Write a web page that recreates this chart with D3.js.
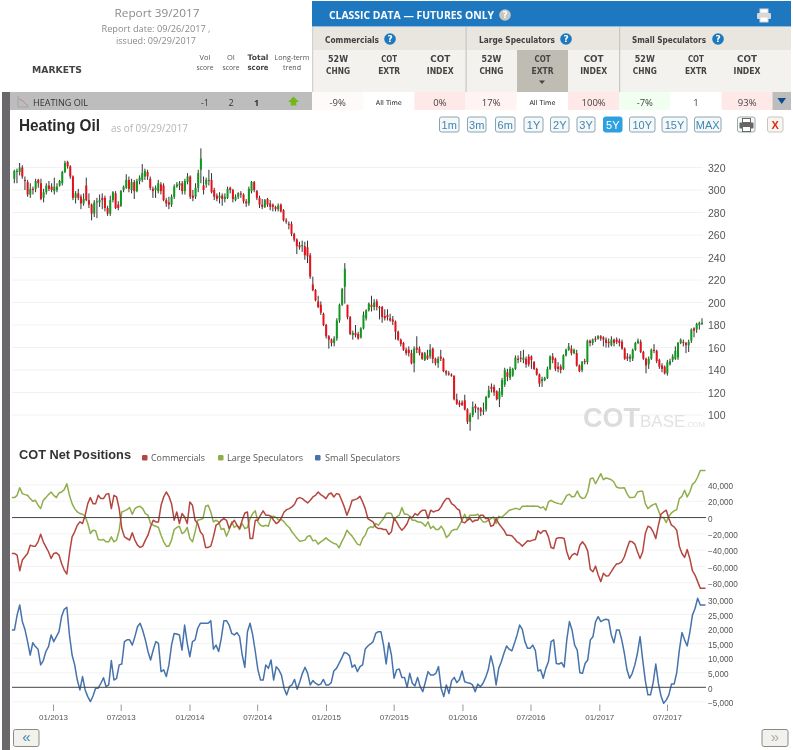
<!DOCTYPE html>
<html><head><meta charset="utf-8">
<script src="https://cdnjs.cloudflare.com/ajax/libs/d3/7.8.5/d3.min.js"></script>
<style>
html,body{margin:0;padding:0;background:#fff;overflow:hidden}
svg{display:block;filter:blur(.3px)}
</style></head><body>
<svg id="c" width="793" height="750"></svg>
<script>
// ---- price candles (weekly, USc/gal)
const opens=[310,316,316,320,309,307,296,301,301,309,
306,293,298,304,303,299,300,304,306,316,
325,321,312,293,297,294,288,304,291,287,
279,289,289,293,293,284,279,291,297,287,
286,300,302,309,300,307,299,308,309,312,
316,310,301,300,299,305,304,291,289,287,
294,303,304,306,299,307,312,295,294,302,
318,304,305,308,309,300,295,293,295,292,
293,302,300,291,294,297,296,290,288,299,
307,299,293,287,285,292,288,287,285,283,
287,282,273,270,270,261,256,251,250,250,
249,242,216,211,201,198,190,180,170,167,
164,168,184,198,214,198,187,171,173,172,
169,177,186,193,198,196,201,196,196,188,
189,186,185,183,174,167,164,158,158,155,
146,160,159,155,149,153,152,159,150,146,
152,150,139,137,136,135,114,111,111,113,
105,94,100,108,106,106,103,105,116,125,
125,121,114,118,127,138,133,135,141,150,
151,149,150,152,152,147,141,136,130,131,
133,141,152,150,143,143,141,153,158,159,
155,155,144,140,148,147,166,164,168,168,
170,169,167,165,162,167,167,166,165,159,
152,150,150,158,164,165,156,150,145,150,
158,157,149,144,143,137,145,149,150,151,
164,165,164,162,166,177,176,180,181];
const closes=[317,317,320,312,308,296,301,300,308,306,
292,298,304,301,300,303,303,308,316,324,
321,312,293,297,293,288,292,291,287,279,
289,290,291,291,284,279,291,298,284,284,
299,303,309,301,307,299,308,311,315,317,
312,302,299,302,306,299,291,288,287,294,
303,305,306,299,308,312,294,293,302,315,
328,300,309,309,298,294,292,295,292,294,
301,300,292,294,297,296,290,288,301,307,
300,293,287,285,291,287,285,285,283,286,
281,273,272,269,261,256,250,249,251,242,
241,223,211,202,196,191,180,170,167,164,
168,184,198,212,230,187,172,173,171,168,
177,189,193,199,196,200,196,195,187,186,
187,184,183,174,167,163,158,155,155,146,
159,158,155,150,155,150,158,150,146,150,
150,139,137,136,135,114,110,109,109,105,
94,100,107,106,105,103,104,116,122,123,
120,114,121,131,140,134,141,141,151,149,
150,151,145,145,149,141,136,128,132,133,
141,152,149,141,141,140,153,158,161,155,
158,144,139,147,147,166,164,167,167,170,
168,167,164,164,167,164,165,164,159,150,
150,152,158,164,166,156,150,144,150,158,
157,148,143,141,137,147,148,152,157,164,
167,164,162,165,176,175,181,182,182];
const highs=[318,319,324,322,312,309,306,303,310,310,
310,301,306,308,306,311,306,309,317,326,
326,322,313,299,301,296,297,311,297,288,
291,293,296,297,295,286,295,299,299,290,
300,304,314,312,310,309,310,313,323,319,
318,312,303,304,309,307,306,293,294,296,
305,307,308,308,310,315,313,300,306,318,
337,312,311,318,315,302,297,298,297,297,
303,303,301,296,298,299,297,292,303,308,
308,300,295,292,292,293,291,288,286,288,
288,283,275,272,272,262,257,254,255,254,
255,244,223,212,206,201,191,181,171,168,
170,186,199,213,235,198,188,175,180,174,
178,192,194,200,206,203,203,197,197,194,
194,190,188,184,175,168,165,160,161,158,
161,170,161,156,156,158,163,160,151,152,
158,151,140,139,137,135,119,113,113,118,
106,102,112,110,107,107,111,117,126,128,
127,122,124,133,142,141,143,142,153,153,
157,158,152,154,153,148,142,137,134,134,
143,153,155,151,147,145,154,159,164,162,
159,158,145,148,150,167,167,168,170,171,
171,170,169,168,170,168,169,168,167,160,
155,154,159,165,168,167,157,151,152,159,
163,158,150,146,144,149,150,154,161,165,
168,167,165,167,177,178,182,183,186];
const lows=[306,306,313,310,300,294,293,296,298,302,
291,289,296,299,298,296,298,303,304,315,
319,310,291,288,291,283,286,290,284,273,
276,275,285,283,281,277,277,289,283,282,
285,298,301,298,297,292,298,305,307,309,
309,300,293,293,297,296,290,285,283,285,
292,302,300,296,296,305,292,290,292,298,
306,296,302,304,297,291,290,288,286,289,
292,297,289,290,292,293,288,285,286,297,
298,291,284,283,284,285,282,281,281,281,
280,272,270,265,259,254,243,247,245,238,
235,221,210,201,195,189,179,168,159,161,
161,166,182,197,199,185,171,167,169,167,
168,176,184,192,192,193,193,185,182,184,
184,183,180,167,166,161,157,153,152,145,
138,155,153,149,148,149,150,146,144,142,
148,138,135,135,134,113,109,107,108,104,
92,86,98,102,96,99,100,103,115,120,
117,113,107,116,125,130,131,134,140,146,
147,146,142,143,141,140,135,125,125,130,
132,140,146,139,138,137,140,152,157,153,
154,143,138,138,145,145,161,162,165,167,
166,161,160,160,161,161,163,161,158,149,
148,147,148,157,163,155,149,137,141,149,
155,146,141,138,136,135,144,147,149,149,
163,161,155,156,164,169,173,176,180];
// ---- COT net positions, thousands of contracts, weekly readings
const commercialsK=[-44.1,-44.1,-46.1,-65.3,-52.2,-48.1,-44.1,-33.9,-35.1,-35.1,
-29.8,-20.4,-29.8,-35.9,-42,-50.2,-44.1,-43.2,-46.1,-56.3,
-64.5,-69.4,-44.1,-23.7,-17.5,-9.4,-5.3,-7.3,2.9,17.1,
24.5,17.1,17.1,27.3,23.3,23.3,28.6,29.4,11,27.3,
25.3,11,-13.5,-23.7,-25.7,-27.7,-18.8,-27.7,-33.9,-36.7,
-35.1,-27.7,-21.6,-11.4,-3.3,-5.3,-5.3,15.1,25.3,31.4,
26.1,17.1,-3.3,6.9,-7.3,4.9,0.8,-7.3,19.2,15.1,
-3.3,-7.3,-17.5,-21.6,-36.7,-36.7,-35.1,-23.7,-9.4,-7.3,
-3.3,-1.2,-3.3,-13.5,-7.3,-3.3,-9.4,-13.5,-3.3,5.7,
6.9,-25.7,-25.7,-3.3,-3.3,2.9,8.2,2.9,2.9,
1.6,-3.3,-7.3,-5.3,0,6.9,9.8,11,13.1,16.3,
23.3,24.5,23.3,20.4,18,21.2,25.3,27.3,31.4,28.2,
26.1,23.3,28.6,30.2,25.3,29.4,28.6,21.2,13.1,2.9,
11,21.2,22,23.3,26.1,19.2,11,-1.2,-3.3,-5.3,
-11.4,-13.5,-13.5,-14.7,-14.7,-20.8,-17.5,-1.2,-5.3,-11.4,
-15.5,-12.2,-7.3,0.8,0,4.9,2.9,6.9,9,9,
-1.2,9,6.9,8.2,9,13.1,19.2,23.3,23.3,17.1,
15.1,11,9,-5.3,-6.5,-3.3,-1.2,-5.3,-3.3,-3.3,
2.9,2.9,-1.2,-1.2,-10.6,-9.4,-1.2,-7.3,-11.4,-15.5,
-21.6,-21.6,-22.4,-25.7,-29.8,-31.8,-35.1,-31.8,-28.6,-29,
-27.7,-26.9,-16.3,-19.6,-16.3,-16.3,-23.7,-36.7,-37.9,-25.7,
-24.9,-24.9,-25.7,-42,-51.4,-46.1,-44.1,-46.1,-33.9,-29.8,
-33.9,-41.2,-63.6,-66.5,-59.6,-70.6,-78.7,-68.5,-71.8,-71.4,
-66.5,-61.2,-57.1,-56.3,-54.3,-48.1,-37.9,-29,-29.8,-32.6,
-42,-50.2,-42,-19.6,-10.6,-12.2,-17.5,-25.7,-9.4,4.1,
6.9,9,-1.2,-9.4,-11.4,-15.5,-35.1,-44.1,-49,-39.2,
-50.2,-65.3,-70.6,-78.7,-86.9,-86.9,-86.9];
const largeSpecsK=[24.5,24.5,27.3,36.7,29.4,28.2,27.3,23.3,20,21.2,
15.1,11,21.2,24.5,28.2,31.4,27.3,24.5,30.2,31.4,
34.3,41.6,27.3,17.1,11,6.9,4.9,4.1,1.6,-7.3,
-19.6,-15.5,-16.3,-26.9,-27.7,-26.9,-29.8,-29.8,-23.7,-29.8,
-27.7,-15.5,6.9,8.2,9.8,12.2,4.1,11,13.1,13.9,
11,4.9,2.9,-7.3,-9.4,-10.6,-12.2,-21.6,-29.8,-35.1,
-35.1,-27.7,-14.7,-12.2,-10.6,-19.6,-17.5,-12.2,-25.7,-29.8,
-17.5,-3.3,-2.4,-1.2,13.9,15.1,6.9,-5.3,-3.3,-5.3,
-14.7,-13.5,-22.8,-15.5,-5.3,-12.2,-9.4,-14.7,-7.3,-13.5,
-12.2,-1.2,4.9,8.2,-5.3,-9.4,-10.6,-9.4,-10.6,
0.8,1.6,0,-3.3,-2.4,-5.3,-9.4,-12.2,-17.5,-21.6,
-25.7,-29,-28.6,-27.7,-22.8,-22.4,-28.6,-27.7,-32.6,-29.8,
-27.7,-24.9,-27.7,-29.8,-31.8,-32.6,-37.1,-29.8,-23.7,-15.5,
-19.6,-22.8,-27.7,-32.6,-33.9,-25.7,-21.6,-13.5,-11.4,-12.2,
-7.3,-9.4,-5.3,-1.2,4.9,5.7,4.9,-3.3,0.8,2.9,
12.2,4.1,4.1,1.6,-3.3,-3.3,-5.3,-5.3,-7.3,-10.6,
-5.3,-13.5,-10.6,-14.7,-14.7,-10.6,-15.5,-24.5,-21.6,-16.3,
-14.7,-14.7,-9.4,-3.3,4.1,-3.3,2.9,2.9,2.9,4.1,
-1.2,-5.3,-5.3,-3.3,-1.2,0.8,-7.3,1.6,0,2.9,
5.7,9,9.8,11,11,9.8,13.9,13.9,14.3,13.9,
14.3,13.9,13.9,11.8,13.1,9,19.2,21.2,19.2,18,
17.1,16.3,21.2,27.3,28.6,25.3,26.1,32.6,26.1,23.3,
24.5,31.4,47.7,48.6,41.6,47.7,53.9,46.5,48.6,47.7,
46.5,43.7,37.5,36.3,36.3,36.7,29.4,24.5,24.5,25.3,
31.4,32.2,32.2,17.1,11,13.9,15.9,17.1,9,0,
0,-6.1,1.6,5.7,8.2,9.8,23.3,26.1,33.5,25.3,
31.4,40.8,43.7,49.8,57.9,57.9,57.9];
const smallSpecsK=[19.7,19.7,24.8,28.3,22.6,19.9,15.7,11.1,15.3,14,
13.1,7.7,9.2,12.3,14,18,15.7,17.4,19.1,24.3,
26.8,27.5,18,11.1,7.7,2.5,-0.9,3.7,-0.9,-3.2,
-4.9,-3,-0.3,-0.3,1.4,3.3,0.2,0.8,9.2,2.5,
3.1,7.7,8,15.7,16.3,16.3,14.5,17.4,20.8,22,
19.5,16.3,12.3,9.4,12.8,15.7,15.1,5.4,6,3.7,
7.7,14.5,18.5,18.3,18,12.8,21.4,15.1,10.5,15.7,
16.3,20.3,22,22,22,22,22.9,13.1,14.5,12.3,
16.8,22.9,22.9,21.4,18.5,18,18.8,17.4,11.1,6.9,
19.1,22,18,12.3,6,
2.5,2.5,7.7,6.5,9.4,2.5,7.1,6,4.2,-0.3,
-2.6,0.2,0.8,2.7,-0.7,1.9,4.8,6.9,4.8,0.8,
2.3,1.4,0.8,1.1,2.7,0.8,0.8,1.6,5.6,6.5,
8.2,10,12,11.7,10.8,6.9,7.7,5.4,7.1,7.7,
13.2,14.2,14.9,15.7,18.5,19.1,19.1,14.5,8,15.3,
11.1,3.1,6,6.3,3.4,3.4,0,4.8,1.4,0.5,
3.4,0.2,-1.5,1.9,5.4,4.2,4.2,4.8,7.1,-0.3,
-3.2,0.8,-2.1,2.3,3.4,1.6,2.7,5.6,1.9,1.6,
1.4,0.8,-1.5,1.1,0.2,1.4,3.4,6,10.8,7.1,
0.8,6.5,8.8,11.7,14.2,13.1,12.5,15.1,18,21.4,
19.9,15.7,13.4,13.4,
14.5,12.6,5.6,6,3.1,6.5,8.8,15.7,16.3,8.2,
8,8.5,6.9,16.3,22.6,19.7,14.5,12.8,5,4.8,
8.2,9.4,16.3,17.4,22.6,24.3,22.6,23.1,23.4,23.1,
18,15.3,19.7,19.7,16.3,11.7,6,3.1,4.8,7.7,
11.7,17.4,9.4,2.3,-2.6,-2.6,1.6,8,1.4,-3,
-5.5,-4.4,-2.6,1.1,1.1,5,12.8,18.8,16.3,14.2,
18.8,24.8,27.1,30.6,28.3,28.3,28.3];
const priceTicks=[100,120,140,160,180,200,220,240,260,280,300,320];
const netTicks=[-80000,-60000,-40000,-20000,0,20000,40000];
const smallTicks=[-5000,0,5000,10000,15000,20000,25000,30000];
const dateTicks=["2013-01-01","2013-07-01","2014-01-01","2014-07-01","2015-01-01","2015-07-01","2016-01-01","2016-07-01","2017-01-01","2017-07-01"];
const rangeButtons=["1m","3m","6m","1Y","2Y","3Y","5Y","10Y","15Y","MAX"];
const colHeads=[["52W","CHNG"],["COT","EXTR"],["COT","INDEX"],["52W","CHNG"],["COT","EXTR"],["COT","INDEX"],["52W","CHNG"],["COT","EXTR"],["COT","INDEX"]];
const rowCells=["-9%","All Time","0%","17%","All Time","100%","-7%","1","93%"];
const cellFills=["#fffafa","#ffffff","#ffe8e8","#fff3f3","#ffffff","#ffe8e8","#f1fff1","#ffffff","#ffe8e8"];
const groups=["Commercials","Large Speculators","Small Speculators"];
const legendColors=["#b5463f","#8fae4b","#4673ab"];

const svg=d3.select("#c");
const SANS='"Liberation Sans",Arial,sans-serif', TAH='"DejaVu Sans",Verdana,sans-serif', OPEN='"Open Sans",sans-serif';
function T(x,y,s,o={}){
  const e=svg.append("text").attr("x",x).attr("y",y).text(s)
   .attr("font-family",o.f||SANS).attr("font-size",o.s||10).attr("fill",o.c||"#444")
   .attr("text-anchor",o.a||"start").attr("font-weight",o.w||"normal");
  if(o.len) e.attr("textLength",o.len).attr("lengthAdjust","spacingAndGlyphs");
  return e;
}
function R(x,y,w,h,fill,o={}){
  return svg.append("rect").attr("x",x).attr("y",y).attr("width",w).attr("height",h).attr("fill",fill)
   .attr("stroke",o.stroke||"none").attr("stroke-width",o.sw||1).attr("rx",o.r||0);
}
function Q(cx,cy,bg){
  svg.append("circle").attr("cx",cx).attr("cy",cy).attr("r",5.8).attr("fill",bg);
  T(cx,cy+3.3,"?",{s:9,w:"bold",c:"#fff",a:"middle",f:TAH});
}
function printer(x,y,c,bg){
  R(x+3,y,8,4,bg,{stroke:c,sw:1});
  R(x,y+4,14,6,c,{r:1});
  R(x+3,y+8,8,5,bg,{stroke:c,sw:1});
}
// left bar
R(2,92,8,658,"#6b686b");
// header left
T(157,17,"Report 39/2017",{a:"middle",s:11.5,c:"#8a8a8a",f:OPEN,len:85});
T(156,32,"Report date: 09/26/2017 ,",{a:"middle",s:9.5,c:"#8a8a8a",f:OPEN,len:109});
T(156,44,"issued: 09/29/2017",{a:"middle",s:9.5,c:"#8a8a8a",f:OPEN,len:80});
T(32,73,"MARKETS",{s:9.5,w:"bold",c:"#444",f:TAH,len:50});
T(205,60,"Vol",{a:"middle",s:7.5,c:"#555",f:OPEN});
T(205,70,"score",{a:"middle",s:7.5,c:"#555",f:OPEN,len:17});
T(231,60,"OI",{a:"middle",s:7.5,c:"#555",f:OPEN});
T(231,70,"score",{a:"middle",s:7.5,c:"#555",f:OPEN,len:17});
T(258,60,"Total",{a:"middle",s:7.5,w:"bold",c:"#444",f:TAH,len:21});
T(258,70,"score",{a:"middle",s:7.5,w:"bold",c:"#444",f:TAH,len:21});
T(292,60,"Long-term",{a:"middle",s:7,c:"#555",f:OPEN,len:35});
T(292,70,"trend",{a:"middle",s:7,c:"#555",f:OPEN,len:18});
// blue bar
R(312,1,479,25.5,"#1e78c0");
T(329,19,"CLASSIC DATA \u2014 FUTURES ONLY",{s:10.5,c:"#fff",w:"bold",f:OPEN,len:165});
Q(505,15,"#c9c7c0");
printer(757,9,"#d8d8d8","#fff");
// sub-header
R(312,27,479,23,"#e8e6df");
R(312,50,479,42,"#f3f2ee");
R(312,27,1.2,65,"#d3d1cb");
R(465.5,27,1.2,65,"#c9c7c0");
R(619,27,1.2,65,"#c9c7c0");
const colX=d3.scaleLinear().domain([0,8]).range([338,747]);
const grpX=[325,479,632],grpLen=[54,76,74],grpQ=[390,566,718];
groups.forEach((g,i)=>{T(grpX[i],42.5,g,{s:8,w:"bold",c:"#3f3f3f",f:TAH,len:grpLen[i]});Q(grpQ[i],39,"#1e78c0");});
R(517,50,51,42,"#bfbcb4");
colHeads.forEach((h,i)=>{
  T(colX(i),62,h[0],{a:"middle",s:8,w:"bold",c:"#444",f:TAH,len:i%3==2?20:(h[0]=="52W"?20:16)});
  T(colX(i),74,h[1],{a:"middle",s:8,w:"bold",c:"#444",f:TAH,len:i%3==2?27:(h[1]=="CHNG"?24:22)});
});
svg.append("path").attr("d",d3.line()([[539,80.5],[545,80.5],[542,84]])+"Z").attr("fill","#444");
// data row
R(10,92,302,18,"#bdbdbd");
svg.append("path").attr("d","M18 96V107H29").attr("fill","none").attr("stroke","#a5a5a5");
svg.append("path").attr("d","M19 99L23 101L28 106").attr("fill","none").attr("stroke","#b88");
T(33,105.5,"HEATING OIL",{s:9,c:"#333",f:OPEN,len:55});
T(205,106,"-1",{a:"middle",s:9,c:"#333",f:OPEN});
T(231,106,"2",{a:"middle",s:9,c:"#333",f:OPEN});
T(256.5,106,"1",{a:"middle",s:9,w:"bold",c:"#333",f:OPEN});
svg.append("path").attr("d","M293.5 96.5L299 102H296.3V105.5H290.7V102H288Z").attr("fill","#74b818");
rowCells.forEach((c,i)=>{
  const x0=312+i*51.2;
  R(x0,92,51.2,18,cellFills[i]);
  if(c=="All Time") T(x0+25.6,105,c,{a:"middle",s:6.5,c:"#222",f:TAH,len:26});
  else T(x0+25.6,105.5,c,{a:"middle",s:9.5,c:"#444",f:OPEN});
});
R(772.5,92,18.5,18,"#bdbdbd");
svg.append("path").attr("d","M777.5 98H786L781.7 104Z").attr("fill","#0e4a8c");
// title
T(19,131,"Heating Oil",{s:16,w:"bold",c:"#2a2a2a",f:SANS,len:81});
T(111,132,"as of 09/29/2017",{s:10,c:"#b5b5b5",f:OPEN,len:77});
// buttons
const btnEdges=[[439.5,459],[467.5,486],[495.5,515],[524,543],[550.5,569],[577,595],[603.5,622],[629.5,655],[662,687],[694.5,721]];
rangeButtons.forEach((b,i)=>{
  const [a,z]=btnEdges[i],act=b=="5Y";
  R(a,117,z-a,15,act?"#2ea0e2":"#f6f8f8",{stroke:act?"#2ea0e2":"#86a6b6",r:2});
  T((a+z)/2,128.5,b,{a:"middle",s:11,c:act?"#fff":"#3d86b6",f:SANS});
});
R(737.5,117,17.5,15,"#f6f8f8",{stroke:"#9aa",r:2});
printer(739.5,118.5,"#666","#fff");
R(767.5,117,15.5,15,"#f6f6f4",{stroke:"#c9c5bb",r:2});
T(775.2,128.5,"X",{a:"middle",s:11,c:"#e8260c",f:SANS,w:"bold"});

// ---- price chart
const y=d3.scaleLinear().domain([100,320]).range([415,167.5]);
const xi=d3.scaleLinear().domain([0,opens.length-1]).range([14.3,702]);
svg.append("g").selectAll("line").data(priceTicks).join("line")
  .attr("x1",12).attr("x2",703).attr("y1",d=>y(d)).attr("y2",d=>y(d)).attr("stroke","#f2f2f2");
// watermark: one text element with three runs
const wm=svg.append("text").attr("x",583).attr("y",427).attr("font-family",SANS);
wm.append("tspan").attr("font-size",27).attr("font-weight","bold").attr("fill","#dcdcdc").text("COT");
wm.append("tspan").attr("font-size",17).attr("fill","#e2e2e2").text("BASE");
wm.append("tspan").attr("font-size",7.5).attr("fill","#e2e2e2").text(".COM");
const ax=svg.append("g").attr("transform","translate(706,0)").call(d3.axisRight(y).tickValues(priceTicks).tickSize(0).tickPadding(2));
ax.select(".domain").remove();
ax.selectAll("text").attr("font-family",SANS).attr("font-size",10.5).attr("fill","#555").attr("dy","0.35em");
const cg=svg.append("g");
cg.selectAll("line").data(opens).join("line")
  .attr("x1",(d,i)=>xi(i)).attr("x2",(d,i)=>xi(i))
  .attr("y1",(d,i)=>y(highs[i])).attr("y2",(d,i)=>y(lows[i]))
  .attr("stroke","#333").attr("stroke-width",1);
cg.selectAll("rect").data(opens).join("rect")
  .attr("x",(d,i)=>xi(i)-1).attr("width",2)
  .attr("y",(d,i)=>y(Math.max(d,closes[i])))
  .attr("height",(d,i)=>Math.max(1.2,Math.abs(y(d)-y(closes[i]))))
  .attr("fill",(d,i)=>closes[i]>=d?"#0f9a1e":"#e5121c");

// ---- COT headline + legend
T(19,459,"COT Net Positions",{s:12.5,w:"bold",c:"#333",f:SANS,len:112});
const legX=[145,221,318],legTx=[151,227,325],legLen=[54,76,75];
groups.forEach((g,i)=>{
  R(legX[i]-3,455,5.5,5.5,legendColors[i],{r:1.2});
  T(legTx[i],460.5,g,{s:9,c:"#555",f:OPEN,len:legLen[i]});
});

// ---- net positions
const start=new Date(2012,8,13);
const weekDate=k=>d3.timeDay.offset(start,k*7);
const tx=d3.scaleTime().domain([new Date(2013,0,1),new Date(2017,6,1)]).range([53,667]);
const yn=d3.scaleLinear().domain([-80000,40000]).range([582.7,485]);
const ys=d3.scaleLinear().domain([-5000,30000]).range([701.85,600]);
function grid(ticks,sc){
  svg.append("g").selectAll("line").data(ticks.filter(d=>d!=0)).join("line")
   .attr("x1",12).attr("x2",706).attr("y1",d=>sc(d)).attr("y2",d=>sc(d)).attr("stroke","#f3f3f3");
}
grid(netTicks,yn); grid(smallTicks,ys);
function axisR(sc,ticks){
  const g=svg.append("g").attr("transform","translate(706,0)")
    .call(d3.axisRight(sc).tickValues(ticks).tickSize(0).tickPadding(2).tickFormat(d3.format(",")));
  g.select(".domain").remove();
  g.selectAll("text").attr("font-family",SANS).attr("font-size",8.2).attr("fill","#555").attr("dy","0.45em");
}
axisR(yn,netTicks); axisR(ys,smallTicks);
function pline(arr,sc,col){
  svg.append("path").datum(arr).attr("fill","none").attr("stroke",col).attr("stroke-width",1.5)
   .attr("stroke-linejoin","round")
   .attr("d",d3.line().x((d,i)=>tx(weekDate(i))).y(d=>sc(d*1000)));
}
pline(largeSpecsK,yn,legendColors[1]);
pline(commercialsK,yn,legendColors[0]);
svg.append("line").attr("x1",12).attr("x2",706).attr("y1",yn(0)).attr("y2",yn(0)).attr("stroke","#444").attr("stroke-width",1);
pline(smallSpecsK,ys,legendColors[2]);
svg.append("line").attr("x1",12).attr("x2",706).attr("y1",ys(0)).attr("y2",ys(0)).attr("stroke","#444").attr("stroke-width",1);
// ---- time axis
const tg=svg.append("g").attr("transform","translate(0,704.5)")
  .call(d3.axisBottom(tx).tickValues(dateTicks.map(d=>new Date(d+"T00:00:00"))).tickSize(6.5).tickPadding(3).tickFormat(d3.timeFormat("%m/%Y")));
tg.select(".domain").remove();
tg.selectAll("line").attr("stroke","#999");
tg.selectAll("text").attr("font-family",SANS).attr("font-size",8).attr("fill","#555");
// bottom nav
R(13.5,729.5,25.5,17,"#f3f1ec",{stroke:"#8a8a8a",r:2,sw:1});
T(26.5,742,"\u00ab",{a:"middle",s:15,c:"#3d86b6",f:SANS});
R(762,729.5,26,17,"#f3f1ec",{stroke:"#8a8a8a",r:2,sw:1});
T(775,742,"\u00bb",{a:"middle",s:15,c:"#aaa",f:SANS});
</script>
</body></html>
